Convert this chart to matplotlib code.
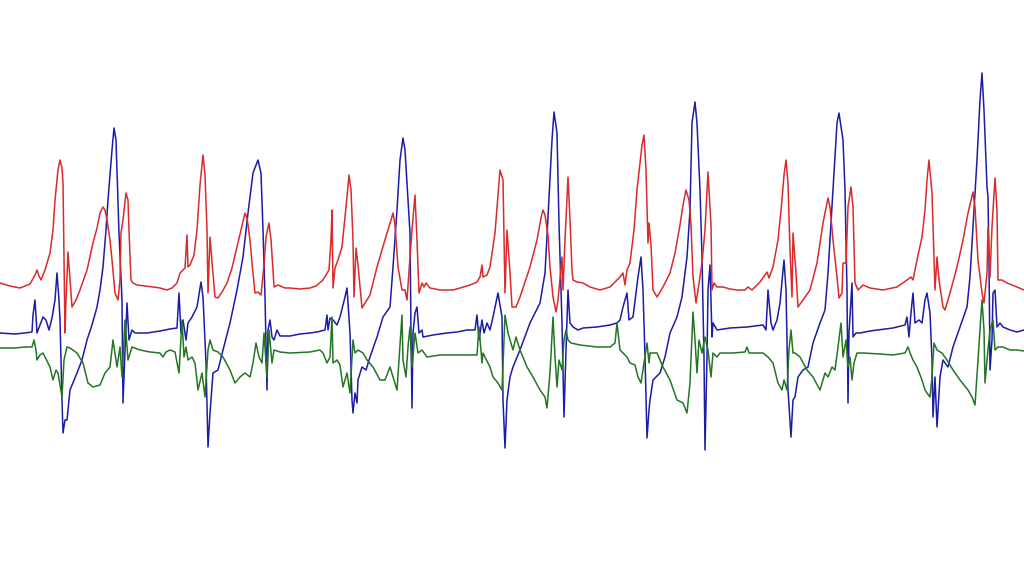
import matplotlib.pyplot as plt

# Werte (x = Zeit, y = Auslenkung, Bildkoordinaten nach unten)
red_t = [0, 10, 20, 30, 35, 37, 39, 41, 45, 50, 53, 55, 58, 60, 62, 63, 64, 65, 66, 68, 70, 72, 76, 80, 87, 93, 97,
         100, 103, 105, 107, 110, 112, 115, 118, 120, 121, 123, 126, 128, 129, 131, 133, 137, 145, 153, 160, 167,
         172, 177, 180, 183, 185, 187, 188, 190, 194, 197, 200, 203, 205, 207, 208, 210, 212, 215, 218, 222, 227,
         232, 237, 241, 245, 247, 250, 252, 255, 258, 261, 264, 266, 269, 271, 273, 274, 278, 285, 290, 300, 310,
         316, 323, 329, 331, 332, 333, 335, 338, 342, 347, 349, 351, 353, 354, 356, 358, 362, 367, 370, 377, 382,
         387, 391, 393, 395, 398, 402, 405, 407, 410, 412, 415, 417, 419, 422, 424, 426, 430, 440, 453, 460, 470,
         477, 480, 482, 483, 487, 490, 495, 498, 500, 503, 505, 507, 510, 512, 516, 520, 525, 530, 537, 541, 543,
         545, 548, 550, 553, 556, 558, 562, 563, 565, 568, 570, 572, 573, 577, 583, 590, 600, 610, 617, 620, 623,
         625, 627, 630, 634, 637, 642, 644, 646, 648, 649, 651, 653, 657, 663, 670, 675, 680, 683, 686, 689, 691,
         693, 696, 698, 702, 705, 708, 711, 712, 714, 717, 723, 730, 737, 745, 748, 752, 760, 765, 767, 769, 773,
         778, 782, 784, 786, 788, 790, 792, 793, 796, 798, 803, 810, 817, 823, 828, 830, 833, 837, 839, 842, 843,
         846, 848, 851, 853, 855, 858, 863, 870, 883, 897, 907, 911, 913, 917, 922, 925, 927, 929, 932, 934, 935,
         937, 939, 943, 945, 950, 957, 963, 968, 973, 975, 978, 982, 984, 987, 988, 990, 992, 995, 997, 998, 1002,
         1007, 1017, 1024]
red_v = [283, 286, 288, 284, 275, 270, 276, 280, 270, 253, 230, 200, 170, 160, 168, 183, 260, 333, 300, 252, 280,
         307, 300, 290, 270, 243, 228, 213, 207, 210, 220, 240, 260, 293, 300, 280, 233, 220, 193, 200, 230, 280,
         283, 285, 286, 287, 288, 290, 288, 283, 273, 270, 268, 235, 267, 265, 255, 230, 185, 155, 175, 230, 293,
         237, 262, 297, 298, 292, 283, 268, 247, 230, 213, 218, 240, 263, 293, 292, 295, 265, 237, 223, 240, 270,
         287, 285, 288, 288, 289, 288, 286, 280, 270, 240, 210, 288, 268, 260, 247, 197, 175, 190, 240, 297, 248,
         265, 308, 300, 295, 267, 250, 233, 220, 213, 225, 267, 290, 290, 300, 257, 230, 195, 240, 293, 283, 287,
         283, 288, 290, 290, 288, 285, 282, 277, 265, 277, 275, 267, 233, 195, 170, 180, 293, 230, 273, 307, 307,
         297, 282, 267, 240, 218, 210, 215, 235, 267, 297, 312, 300, 257, 290, 240, 177, 220, 270, 280, 282, 283,
         287, 290, 287, 280, 277, 273, 285, 270, 263, 230, 190, 145, 135, 170, 243, 223, 245, 290, 297, 287, 273,
         253, 225, 205, 190, 200, 225, 277, 303, 290, 263, 230, 172, 225, 290, 283, 287, 287, 289, 290, 290, 287,
         290, 282, 275, 272, 278, 267, 240, 200, 175, 160, 183, 250, 297, 233, 273, 307, 300, 290, 263, 223, 198,
         207, 240, 277, 298, 293, 263, 263, 207, 187, 207, 283, 290, 285, 288, 290, 287, 280, 277, 280, 260, 237,
         210, 180, 160, 193, 260, 290, 257, 280, 307, 310, 293, 267, 240, 213, 192, 207, 260, 293, 303, 273, 227,
         277, 227, 178, 210, 280, 280, 283, 287, 290]

blue_t = [0, 15, 25, 32, 33, 35, 37, 40, 43, 46, 49, 52, 55, 57, 59, 60, 62, 63, 65, 67, 70, 77, 82, 87, 92, 97,
          100, 103, 106, 108, 112, 114, 116, 118, 119, 122, 123, 125, 127, 129, 132, 135, 140, 147, 160, 170, 177,
          179, 181, 183, 186, 188, 192, 197, 201, 203, 206, 208, 210, 213, 218, 223, 230, 237, 243, 248, 253, 258,
          261, 263, 265, 267, 268, 270, 272, 274, 277, 280, 290, 300, 310, 317, 325, 327, 328, 330, 333, 337, 340,
          345, 347, 350, 352, 353, 355, 357, 358, 362, 366, 370, 377, 383, 390, 393, 397, 400, 403, 405, 408, 410,
          411, 412, 413, 415, 417, 419, 422, 423, 433, 447, 457, 467, 475, 477, 479, 482, 484, 487, 490, 493, 498,
          502, 503, 505, 507, 510, 513, 520, 530, 540, 545, 548, 552, 554, 557, 559, 562, 564, 566, 568, 570, 573,
          578, 583, 597, 610, 617, 620, 623, 627, 629, 633, 638, 641, 643, 645, 647, 649, 650, 653, 660, 665, 670,
          677, 682, 687, 690, 692, 695, 697, 700, 702, 704, 705, 707, 708, 710, 712, 713, 717, 730, 747, 763, 766,
          768, 771, 773, 777, 780, 784, 786, 788, 791, 793, 795, 798, 803, 808, 813, 820, 825, 828, 833, 837, 839,
          843, 845, 847, 848, 849, 852, 853, 856, 860, 870, 893, 905, 907, 909, 911, 913, 915, 919, 922, 925, 927,
          930, 932, 933, 935, 937, 940, 943, 948, 953, 960, 967, 970, 973, 977, 980, 982, 984, 987, 988, 989, 990,
          992, 993, 995, 997, 1000, 1003, 1010, 1017, 1024]
blue_v = [333, 334, 333, 332, 315, 300, 333, 325, 317, 320, 330, 318, 300, 273, 300, 320, 400, 433, 420, 420, 390,
          373, 360, 340, 325, 307, 290, 267, 230, 200, 150, 128, 140, 200, 233, 300, 403, 350, 303, 340, 330, 333,
          333, 333, 331, 329, 328, 293, 333, 320, 340, 323, 317, 307, 282, 297, 363, 447, 413, 373, 370, 350, 323,
          290, 257, 213, 173, 160, 173, 230, 297, 390, 330, 320, 337, 340, 330, 336, 336, 334, 333, 332, 330, 315,
          330, 318, 320, 325, 317, 297, 288, 333, 400, 413, 393, 403, 380, 367, 370, 357, 337, 317, 307, 267, 210,
          160, 138, 150, 200, 233, 333, 408, 333, 313, 307, 333, 330, 337, 335, 333, 332, 330, 330, 315, 340, 320,
          333, 323, 330, 317, 293, 317, 400, 448, 400, 377, 367, 350, 323, 303, 273, 217, 140, 112, 133, 223, 323,
          417, 350, 290, 323, 327, 330, 328, 327, 325, 323, 320, 307, 293, 320, 317, 277, 257, 290, 357, 438, 410,
          400, 380, 373, 357, 333, 317, 297, 257, 210, 123, 102, 123, 190, 257, 357, 450, 357, 290, 265, 337, 323,
          330, 328, 327, 325, 330, 290, 323, 330, 320, 303, 260, 290, 390, 437, 400, 397, 377, 370, 367, 343, 323,
          310, 273, 190, 123, 113, 140, 190, 290, 403, 333, 283, 337, 333, 333, 331, 328, 325, 317, 337, 313, 293,
          323, 320, 323, 300, 293, 313, 360, 417, 377, 427, 377, 360, 367, 347, 327, 307, 277, 227, 160, 100, 73,
          110, 187, 197, 260, 370, 340, 293, 290, 327, 323, 327, 330, 332, 330]

green_t = [0, 15, 25, 32, 34, 36, 37, 40, 43, 45, 50, 53, 56, 58, 62, 64, 67, 70, 77, 83, 88, 93, 100, 105, 110,
           113, 117, 120, 122, 125, 128, 132, 140, 150, 160, 163, 166, 170, 175, 179, 182, 184, 186, 188, 192, 195,
           198, 202, 205, 208, 210, 213, 218, 223, 230, 235, 240, 245, 250, 253, 256, 259, 262, 264, 267, 269, 272,
           274, 280, 290, 310, 320, 323, 327, 330, 332, 333, 337, 340, 343, 347, 350, 353, 355, 358, 363, 367, 373,
           380, 385, 390, 393, 397, 402, 403, 406, 408, 410, 412, 415, 418, 422, 427, 440, 457, 470, 477, 479, 482,
           483, 490, 493, 498, 502, 505, 508, 513, 516, 520, 527, 533, 540, 545, 547, 550, 553, 555, 557, 559, 562,
           564, 566, 568, 571, 580, 597, 610, 615, 617, 620, 623, 627, 630, 635, 638, 641, 644, 647, 649, 650, 657,
           663, 670, 677, 683, 687, 690, 693, 695, 697, 699, 702, 705, 708, 711, 713, 717, 720, 733, 745, 747, 749,
           763, 768, 773, 778, 782, 784, 787, 789, 791, 793, 795, 800, 807, 813, 820, 825, 828, 832, 835, 838, 841,
           843, 846, 848, 850, 852, 854, 857, 863, 880, 893, 905, 908, 910, 913, 917, 922, 925, 927, 930, 932, 934,
           937, 942, 947, 953, 960, 968, 972, 975, 978, 982, 984, 985, 987, 990, 993, 995, 998, 1003, 1010, 1017,
           1024]
green_v = [348, 348, 347, 347, 340, 350, 360, 355, 353, 357, 367, 380, 370, 373, 397, 360, 347, 348, 353, 363,
           383, 387, 385, 373, 367, 340, 367, 347, 377, 320, 360, 347, 350, 352, 353, 357, 352, 350, 352, 373, 320,
           357, 347, 360, 357, 363, 390, 373, 397, 350, 340, 350, 352, 357, 370, 383, 377, 373, 377, 363, 343, 357,
           363, 333, 377, 330, 363, 350, 352, 353, 352, 350, 353, 363, 357, 317, 363, 360, 365, 387, 373, 393, 340,
           353, 350, 353, 360, 367, 380, 380, 367, 377, 390, 315, 360, 377, 347, 327, 367, 333, 353, 350, 357, 355,
           355, 355, 355, 327, 363, 353, 367, 377, 383, 390, 315, 333, 350, 337, 350, 367, 377, 390, 397, 408, 373,
           317, 357, 387, 360, 370, 340, 330, 340, 343, 345, 347, 347, 343, 323, 350, 353, 357, 363, 365, 377, 383,
           363, 343, 363, 353, 353, 367, 380, 400, 403, 413, 383, 312, 340, 373, 340, 353, 337, 350, 377, 353, 357,
           353, 353, 352, 347, 353, 353, 357, 363, 383, 390, 380, 390, 350, 330, 353, 353, 357, 370, 377, 390, 373,
           377, 367, 370, 347, 323, 357, 340, 367, 357, 380, 363, 353, 353, 354, 355, 353, 347, 353, 360, 367, 380,
           390, 393, 397, 377, 343, 350, 353, 360, 370, 380, 390, 397, 405, 360, 300, 330, 383, 360, 330, 320, 350,
           347, 347, 350, 350, 351]

fig = plt.figure(figsize=(10.24, 5.69), dpi=100)
ax = fig.add_axes([0, 0, 1, 1])

# Reihenfolge wie im Original: blau unten, dann grün, rot oben
ax.plot(blue_t, blue_v, color="#1c1ca6", linewidth=1.1)
ax.plot(green_t, green_v, color="#257525", linewidth=1.1)
ax.plot(red_t, red_v, color="#d92b2b", linewidth=1.1)

ax.set_xlim(0, 1024)
ax.set_ylim(569, 0)
ax.axis("off")

fig.savefig("out.png", dpi=100, facecolor="white")
